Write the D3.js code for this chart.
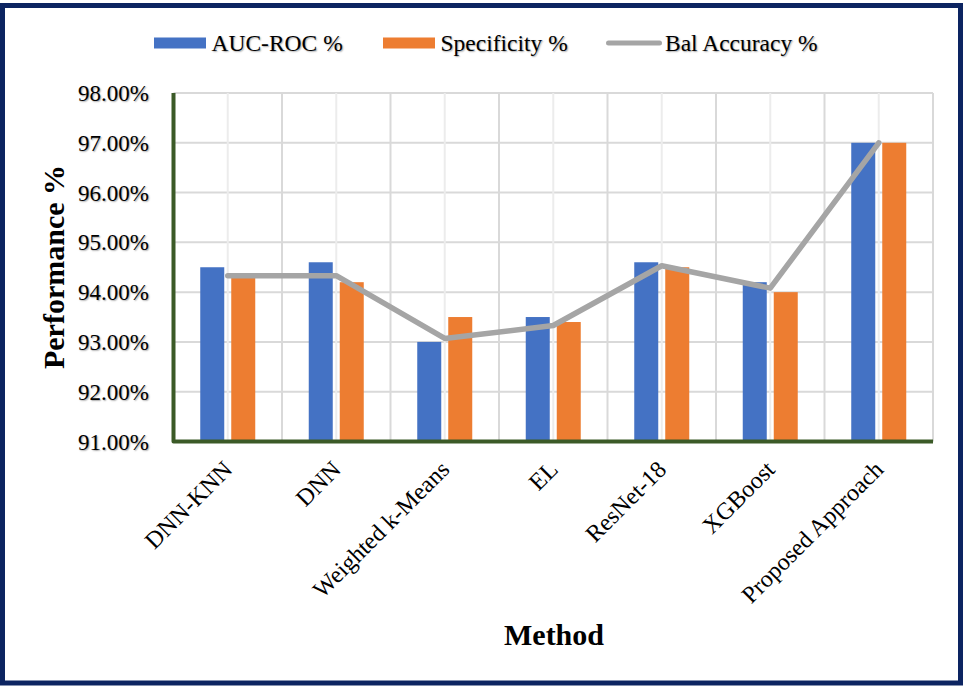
<!DOCTYPE html>
<html>
<head>
<meta charset="utf-8">
<script src="https://cdn.jsdelivr.net/npm/d3@7"></script>
<style>
  html, body { margin: 0; padding: 0; background: #ffffff; }
  svg text { font-family: "Liberation Serif", "Times New Roman", serif; fill: #000; }
  .shadow { text-shadow: 1px 1px 1.5px rgba(0,0,0,0.35); }
</style>
</head>
<body>
<svg id="chart" width="963" height="686"></svg>
<script>
// Methods compared
const methods = ["DNN-KNN", "DNN", "Weighted k-Means", "EL", "ResNet-18", "XGBoost", "Proposed Approach"];
// Metric values (%)
const aucRoc      = [94.5, 94.6, 93.0, 93.5, 94.6, 94.2, 97.0];
const specificity = [94.3, 94.2, 93.5, 93.4, 94.5, 94.0, 97.0];
const balAccuracy = [94.33, 94.33, 93.07, 93.33, 94.53, 94.08, 97.0];
// Series names and colours
const seriesNames = ["AUC-ROC %", "Specificity %", "Bal Accuracy %"];
const seriesColors = ["#4472c4", "#ed7d31", "#a5a5a5"];
// Y axis ticks
const yTicks = [91, 92, 93, 94, 95, 96, 97, 98];

const svg = d3.select("#chart");
const W = 963, H = 686;

// Outer frame
svg.append("rect")
  .attr("x", 2.5).attr("y", 5.5)
  .attr("width", W - 5).attr("height", H - 8.5)
  .attr("fill", "#fff")
  .attr("stroke", "#0c2461").attr("stroke-width", 5);

const plot = { left: 173.5, right: 933, top: 93, bottom: 441.5 };

const x0 = d3.scaleBand().domain(methods).range([plot.left, plot.right]).padding(0);
const x1 = d3.scaleBand().domain(["auc", "spec"]).range([0, x0.bandwidth()])
  .paddingInner(0.2258).paddingOuter(0.863);
const y = d3.scaleLinear().domain([91, 98]).range([plot.bottom, plot.top]);

// Gridlines
const grid = svg.append("g");
grid.selectAll("line.h").data(yTicks.slice(1)).join("line")
  .attr("x1", plot.left).attr("x2", plot.right)
  .attr("y1", d => y(d)).attr("y2", d => y(d))
  .attr("stroke", "#d9d9d9").attr("stroke-width", 2);
// Boundary lines between categories
const bounds = methods.map(m => x0(m) + x0.bandwidth());
grid.selectAll("line.vb").data(bounds).join("line")
  .attr("x1", d => d).attr("x2", d => d)
  .attr("y1", plot.top).attr("y2", plot.bottom)
  .attr("stroke", "#d9d9d9").attr("stroke-width", 2);
// Center lines of each category
grid.selectAll("line.vc").data(methods).join("line")
  .attr("x1", d => x0(d) + x0.bandwidth() / 2).attr("x2", d => x0(d) + x0.bandwidth() / 2)
  .attr("y1", plot.top).attr("y2", plot.bottom)
  .attr("stroke", "#ececec").attr("stroke-width", 2);

// Bars
const barData = methods.map((m, i) => ({ m, vals: [{ k: "auc", v: aucRoc[i], c: seriesColors[0] }, { k: "spec", v: specificity[i], c: seriesColors[1] }] }));
const groups = svg.append("g").selectAll("g").data(barData).join("g")
  .attr("transform", d => `translate(${x0(d.m)},0)`);
groups.selectAll("rect").data(d => d.vals).join("rect")
  .attr("x", d => x1(d.k)).attr("width", x1.bandwidth())
  .attr("y", d => y(d.v)).attr("height", d => plot.bottom - y(d.v))
  .attr("fill", d => d.c);

// Balanced accuracy line
const line = d3.line()
  .x((d, i) => x0(methods[i]) + x0.bandwidth() / 2)
  .y(d => y(d));
svg.append("path").datum(balAccuracy)
  .attr("d", line)
  .attr("fill", "none").attr("stroke", seriesColors[2])
  .attr("stroke-width", 5.5).attr("stroke-linecap", "round").attr("stroke-linejoin", "round");

// Axes lines
const axisColor = "#3b5a27";
svg.append("path")
  .attr("d", `M${plot.left},${plot.top} V${plot.bottom} H${plot.right}`)
  .attr("fill", "none").attr("stroke", axisColor).attr("stroke-width", 4)
  .attr("stroke-linejoin", "round");

// Y tick labels
svg.append("g").selectAll("text").data(yTicks).join("text")
  .attr("class", "shadow")
  .attr("x", 149).attr("y", d => y(d))
  .attr("dy", "0.35em")
  .attr("text-anchor", "end")
  .attr("font-size", 23)
  .text(d => d3.format(".2f")(d) + "%");

// X tick labels, rotated
svg.append("g").selectAll("text").data(methods).join("text")
  .attr("transform", d => `translate(${x0(d) + x0.bandwidth() / 2 + 6},${471}) rotate(-45)`)
  .attr("text-anchor", "end")
  .attr("font-size", 24)
  .text(d => d);

// Axis titles
svg.append("text")
  .attr("transform", "translate(64,267) rotate(-90)")
  .attr("text-anchor", "middle")
  .attr("font-size", 30).attr("font-weight", "bold")
  .text("Performance %");
svg.append("text")
  .attr("x", 554).attr("y", 645)
  .attr("text-anchor", "middle")
  .attr("font-size", 30).attr("font-weight", "bold")
  .text("Method");

// Legend
const legendX = [154, 383, 606];
const legend = svg.append("g");
seriesNames.forEach((name, i) => {
  const g = legend.append("g").attr("transform", `translate(${legendX[i]},0)`);
  if (i < 2) {
    g.append("rect").attr("x", 0).attr("y", 37.5).attr("width", 52).attr("height", 11).attr("fill", seriesColors[i]);
  } else {
    g.append("line").attr("x1", 2.5).attr("x2", 53.5).attr("y1", 43).attr("y2", 43)
      .attr("stroke", seriesColors[i]).attr("stroke-width", 5).attr("stroke-linecap", "round");
  }
  g.append("text").attr("class", "shadow")
    .attr("x", i < 2 ? 57.5 : 59).attr("y", 50.5)
    .attr("font-size", 23.5)
    .text(name);
});
</script>
</body>
</html>
